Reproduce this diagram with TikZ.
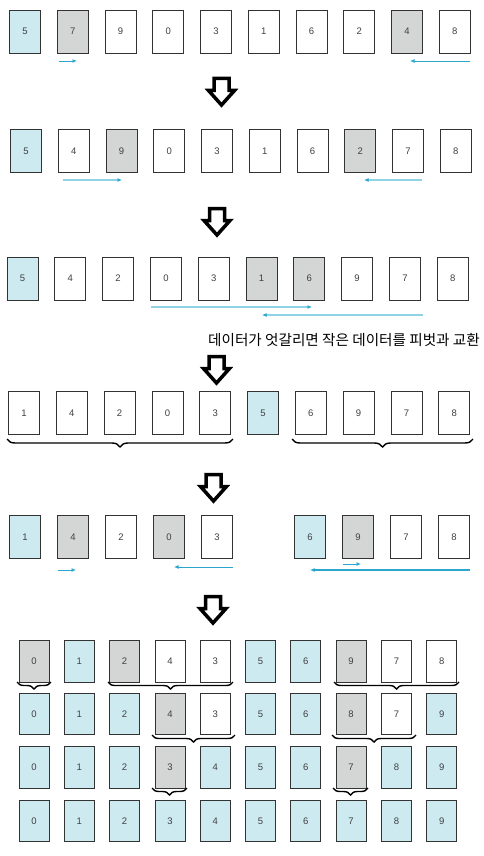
\documentclass[tikz,border=0pt]{standalone}
\usepackage{fontspec}
\setmainfont{Liberation Sans}
\newfontfamily\krfont{Noto Sans CJK KR}
\usetikzlibrary{arrows.meta,decorations.pathreplacing}
\definecolor{fc}{HTML}{CDEAF1}
\definecolor{fg}{HTML}{D4D5D5}
\definecolor{fw}{HTML}{FFFFFF}
\definecolor{acol}{HTML}{2BA6CF}
\definecolor{alight}{HTML}{8ED3E6}
\newcommand\boxrow[6]{%
  \foreach \v/\f [count=\i from 0] in {#6}
    \node[#5, fill=f\f] (#1c\i) at ({#2+\i*#3}, #4) {\v};}
\tikzset{
  box/.style={draw=black!80, line width=0.7pt, minimum width=31pt, minimum height=43pt,
    inner sep=0pt, font=\fontsize{9.5}{10}\selectfont, text=black!75},
  sbox/.style={box, minimum width=30pt, minimum height=41.5pt},
  ptr/.style={draw=acol, line width=0.9pt, -{Latex[length=4.5pt,width=4pt]}},
  lptr/.style={draw=alight, line width=1.2pt, -{Latex[length=4.5pt,width=4pt,color=acol]}},
  brc/.style={draw=black, line width=1.4pt, decorate,
    decoration={brace, mirror, amplitude=#1}},
  brc/.default=7pt,
  downarrow/.pic={\draw[line width=3.5pt, fill=white, line join=miter]
    (-7.5,0) -- (7.5,0) -- (7.5,12) -- (13,12) -- (0,26.5) -- (-13,12) -- (-7.5,12) -- cycle;}
}
\begin{document}
\begin{tikzpicture}[x=1pt,y=-1pt]
\useasboundingbox (0,0) rectangle (484,856);
% row 1
\boxrow{r1}{25}{47.75}{31.5}{box}{5/c,7/g,9/w,0/w,3/w,1/w,6/w,2/w,4/g,8/w}
\coordinate (p1a) at (59,61); \coordinate (p1b) at (77,61);
\coordinate (p1c) at (470,61); \coordinate (p1d) at (410,61);
\draw[ptr] (p1a) -- (p1b);
\draw[ptr] (p1c) -- (p1d);
\pic at (221.5,78.5) {downarrow};
% row 2
\boxrow{r2}{26}{47.75}{151}{box}{5/c,4/w,9/g,0/w,3/w,1/w,6/w,2/g,7/w,8/w}
\coordinate (p2a) at (63,180); \coordinate (p2b) at (122,180);
\coordinate (p2c) at (422,180); \coordinate (p2d) at (364,180);
\draw[lptr] (p2a) -- (p2b);
\draw[lptr] (p2c) -- (p2d);
\pic at (217,208.5) {downarrow};
% row 3
\boxrow{r3}{22.5}{47.8}{278.5}{box}{5/c,4/w,2/w,0/w,3/w,1/g,6/g,9/w,7/w,8/w}
\coordinate (p3a) at (151,307); \coordinate (p3b) at (312,307);
\coordinate (p3c) at (423,315); \coordinate (p3d) at (262,315);
\draw[lptr] (p3a) -- (p3b);
\draw[lptr] (p3c) -- (p3d);
\node[anchor=west, inner sep=0pt, font=\krfont\fontsize{14.6}{16}\selectfont] (note) at (208,340)
  {데이터가 엇갈리면 작은 데이터를 피벗과 교환};
\pic at (216.5,356.5) {downarrow};
% row 4
\boxrow{r4}{24}{47.8}{413}{box}{1/w,4/w,2/w,0/w,3/w,5/c,6/w,9/w,7/w,8/w}
\coordinate (b4a) at (7,439); \coordinate (b4b) at (233,439);
\coordinate (b4c) at (292,439); \coordinate (b4d) at (473,439);
\draw[brc=8pt] (b4a) -- (b4b);
\draw[brc=8pt] (b4c) -- (b4d);
\pic at (213.5,474.5) {downarrow};
% row 5
\boxrow{r5a}{25}{48}{537}{box}{1/c,4/g,2/w,0/g,3/w}
\boxrow{r5b}{310}{48}{537}{box}{6/c,9/g,7/w,8/w}
\coordinate (p5a) at (58,570); \coordinate (p5b) at (76,570);
\coordinate (p5c) at (233,567); \coordinate (p5d) at (174,567);
\coordinate (p5e) at (343,564); \coordinate (p5f) at (361,564);
\coordinate (p5g) at (470,570); \coordinate (p5h) at (310,570);
\draw[ptr] (p5a) -- (p5b);
\draw[ptr] (p5c) -- (p5d);
\draw[ptr] (p5e) -- (p5f);
\draw[ptr, line width=1.1pt] (p5g) -- (p5h);
\pic at (213,596.5) {downarrow};
% row 6
\boxrow{r6}{34}{45.3}{661.5}{sbox}{0/g,1/c,2/g,4/w,3/w,5/c,6/c,9/g,7/w,8/w}
\coordinate (b6a) at (17,682); \coordinate (b6b) at (51,682);
\coordinate (b6c) at (108,682); \coordinate (b6d) at (233,682);
\coordinate (b6e) at (334,682); \coordinate (b6f) at (459,682);
\draw[brc] (b6a) -- (b6b);
\draw[brc] (b6c) -- (b6d);
\draw[brc] (b6e) -- (b6f);
% row 7
\boxrow{r7}{34}{45.3}{714}{sbox}{0/c,1/c,2/c,4/g,3/w,5/c,6/c,8/g,7/w,9/c}
\coordinate (b7a) at (152,735); \coordinate (b7b) at (235,735);
\coordinate (b7c) at (332,735); \coordinate (b7d) at (416,735);
\draw[brc] (b7a) -- (b7b);
\draw[brc] (b7c) -- (b7d);
% row 8
\boxrow{r8}{34}{45.3}{767.5}{sbox}{0/c,1/c,2/c,3/g,4/c,5/c,6/c,7/g,8/c,9/c}
\coordinate (b8a) at (152,788); \coordinate (b8b) at (187,788);
\coordinate (b8c) at (333,788); \coordinate (b8d) at (368,788);
\draw[brc] (b8a) -- (b8b);
\draw[brc] (b8c) -- (b8d);
% row 9
\boxrow{r9}{34}{45.3}{821}{sbox}{0/c,1/c,2/c,3/c,4/c,5/c,6/c,7/c,8/c,9/c}
\end{tikzpicture}
\end{document}
